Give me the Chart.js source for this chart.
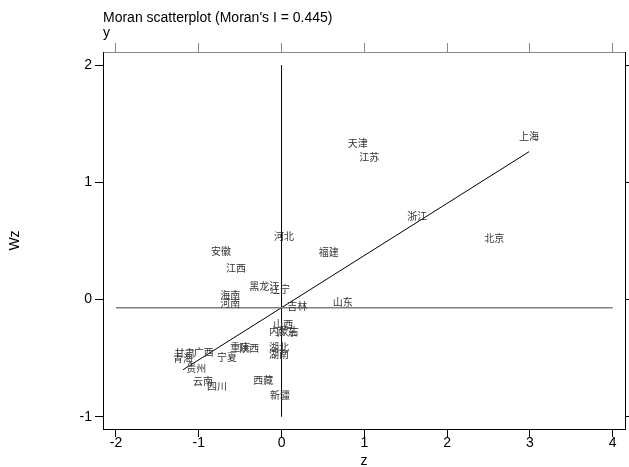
<!DOCTYPE html>
<html>
<head>
<meta charset="utf-8">
<script src="https://cdn.jsdelivr.net/npm/chart.js@4"></script>
<style>
  html, body { margin: 0; padding: 0; background: #fff; }
</style>
</head>
<body>
<canvas id="myChart" width="629" height="467"></canvas>
<script>
const provincias = ['上海', '天津', '江苏', '浙江', '北京', '河北', '福建', '安徽', '江西', '黑龙江',
  '辽宁', '海南', '河南', '吉林', '山东', '山西', '内蒙古', '广东', '湖北', '湖南',
  '重庆', '陕西', '宁夏', '广西', '甘肃', '青海', '贵州', '云南', '四川', '西藏', '新疆']
const zValues = [2.99, 0.92, 1.06, 1.64, 2.57, 0.03, 0.57, -0.73, -0.55, -0.21,
  -0.02, -0.62, -0.62, 0.19, 0.74, 0.02, 0.03, 0.07, -0.03, -0.03,
  -0.50, -0.39, -0.66, -0.94, -1.17, -1.19, -1.03, -0.95, -0.78, -0.22, -0.02]
const wzValues = [1.39, 1.33, 1.21, 0.71, 0.52, 0.54, 0.40, 0.41, 0.27, 0.11,
  0.09, 0.04, -0.03, -0.06, -0.02, -0.21, -0.27, -0.28, -0.41, -0.47,
  -0.41, -0.42, -0.49, -0.45, -0.46, -0.50, -0.59, -0.70, -0.74, -0.69, -0.82]
const xTicks = [-2, -1, 0, 1, 2, 3, 4]
const yTicks = [-1, 0, 1, 2]
const moranI = 0.445
const mediaWz = -0.07

const zMin = Math.min(...zValues)
const zMax = Math.max(...zValues)

const ctx = document.getElementById('myChart');

const textos = {
  id: 'textos',
  afterDatasetsDraw(chart) {
    const c = chart.ctx
    const sx = chart.scales.x
    const sy = chart.scales.y
    c.save()
    c.font = '10px "Noto Sans CJK SC"'
    c.fillStyle = '#333'
    c.textAlign = 'center'
    c.textBaseline = 'middle'
    for (let i = 0; i < provincias.length; i++) {
      c.fillText(provincias[i], sx.getPixelForValue(zValues[i]), sy.getPixelForValue(wzValues[i]))
    }
    c.restore()
  },
  afterDraw(chart) {
    const c = chart.ctx
    c.save()
    c.fillStyle = '#000'
    c.textAlign = 'left'
    c.textBaseline = 'alphabetic'
    c.font = '14px "Liberation Sans", Arial, sans-serif'
    c.fillText("Moran scatterplot (Moran's I = " + moranI.toFixed(3) + ")", 103, 22)
    c.fillText('y', 103, 37)
    c.restore()
  }
}

function eixo(pos, ticks, tamanho, extra) {
  return Object.assign({
    type: 'linear',
    position: pos,
    afterBuildTicks: s => { s.ticks = ticks.map(v => ({ value: v })) },
    afterFit: s => {
      if (pos === 'left' || pos === 'right') s.width = tamanho
      else s.height = tamanho
    },
    grid: { drawOnChartArea: false, drawTicks: true, tickLength: 8, tickColor: '#000' },
    border: { display: true, color: '#000', width: 1 },
    ticks: {
      display: true,
      color: '#000',
      padding: 3,
      font: { family: '"Liberation Sans", Arial, sans-serif', size: 14 }
    }
  }, extra)
}

var grafico = new Chart(ctx, {
  type: 'scatter',
  data: {
    datasets: [
      {
        data: [{ x: xTicks[0], y: mediaWz }, { x: xTicks[xTicks.length - 1], y: mediaWz }],
        showLine: true, borderColor: '#808080', borderWidth: 1.5, pointRadius: 0
      },
      {
        data: [{ x: 0, y: yTicks[0] }, { x: 0, y: yTicks[yTicks.length - 1] }],
        showLine: true, borderColor: '#000', borderWidth: 1, pointRadius: 0
      },
      {
        data: [{ x: zMin, y: mediaWz + moranI * zMin }, { x: zMax, y: mediaWz + moranI * zMax }],
        showLine: true, borderColor: '#000', borderWidth: 1, pointRadius: 0
      },
      {
        data: zValues.map((z, i) => ({ x: z, y: wzValues[i] })),
        pointRadius: 0
      }
    ]
  },
  options: {
    responsive: false,
    animation: false,
    layout: { padding: 0 },
    plugins: { legend: { display: false }, tooltip: { enabled: false } },
    scales: {
      x: eixo('bottom', xTicks, 38, {
        min: -2.157, max: 4.149,
        ticks: { color: '#000', padding: -2, font: { family: '"Liberation Sans", Arial, sans-serif', size: 14 } },
        title: { display: true, text: 'z', color: '#000', padding: { top: 0, bottom: -3 },
          font: { family: '"Liberation Sans", Arial, sans-serif', size: 14 } }
      }),
      x2: eixo('top', xTicks, 52, {
        min: -2.157, max: 4.149,
        grid: { drawOnChartArea: false, drawTicks: true, tickLength: 9, tickColor: '#888' },
        border: { display: true, color: '#888', width: 1 },
        ticks: { display: false }
      }),
      y: eixo('left', yTicks, 103, {
        min: -1.105, max: 2.111,
        title: { display: true, text: 'Wz', color: '#000', padding: { top: 7, bottom: 0 },
          font: { family: '"Liberation Sans", Arial, sans-serif', size: 14 } }
      }),
      y2: eixo('right', yTicks, 4, {
        min: -1.105, max: 2.111,
        grid: { drawOnChartArea: false, drawTicks: true, tickLength: 8, tickColor: '#000' },
        ticks: { display: false }
      })
    }
  },
  plugins: [textos]
});
</script>
</body>
</html>
